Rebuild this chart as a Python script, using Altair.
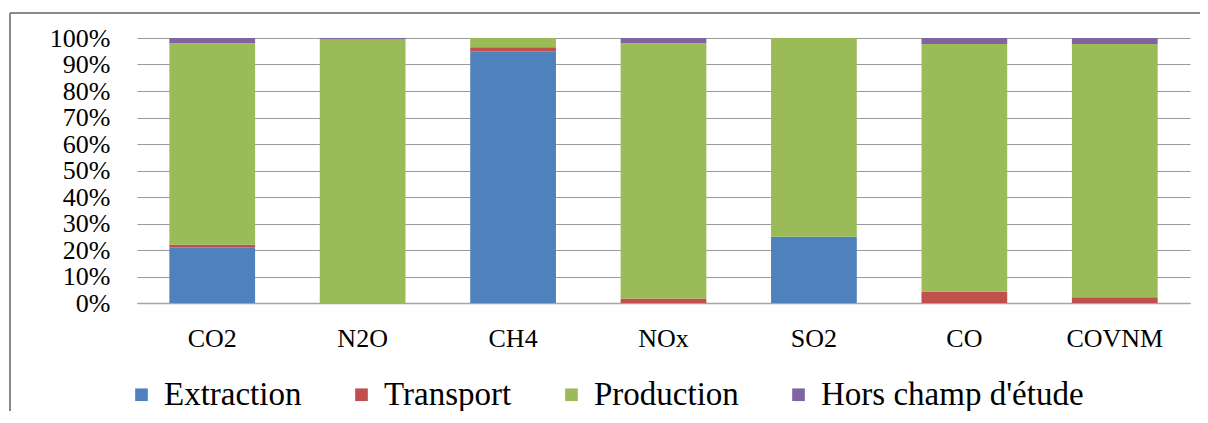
import altair as alt
import pandas as pd

gases = ["CO2", "N2O", "CH4", "NOx", "SO2", "CO", "COVNM"]
sources = ["Extraction", "Transport", "Production", "Hors champ d'étude"]
extraction = [21.0, 0.0, 95.0, 0.0, 25.0, 0.0, 0.0]
transport = [1.0, 0.0, 1.5, 1.7, 0.0, 4.3, 2.2]
production = [76.0, 99.4, 3.5, 96.3, 75.0, 93.4, 95.5]
hors = [2.0, 0.6, 0.0, 2.0, 0.0, 2.3, 2.3]
colors = ["#4F81BD", "#C0504D", "#9BBB59", "#8064A2"]
y_ticks = [0.0, 0.1, 0.2, 0.3, 0.4, 0.5, 0.6, 0.7, 0.8, 0.9, 1.0]

series = [extraction, transport, production, hors]
rows = []
for si, (src, vals) in enumerate(zip(sources, series)):
    for g, v in zip(gases, vals):
        rows.append({"gas": g, "source": src, "value": v, "idx": si})
df = pd.DataFrame(rows)

FONT = "Liberation Serif"

bars = alt.Chart(df).mark_bar().encode(
    x=alt.X(
        "gas:N",
        sort=gases,
        title=None,
        scale=alt.Scale(paddingInner=0.43, paddingOuter=0.215),
        axis=alt.Axis(
            labelAngle=0, labelFont=FONT, labelFontSize=26, labelColor="#000000",
            labelPadding=22, ticks=False, tickSize=0, grid=False,
            domainColor="#a6a6a6", domainWidth=1.5,
        ),
    ),
    y=alt.Y(
        "value:Q",
        stack="normalize",
        title=None,
        scale=alt.Scale(domain=[0, 1], nice=False),
        axis=alt.Axis(
            values=y_ticks, format=".0%", labelFont=FONT, labelFontSize=26,
            labelColor="#000000", labelPadding=27, ticks=False, tickSize=0,
            labelOverlap=False, labelBound=False,
            domain=False, grid=True, gridColor="#9a9a9a", gridWidth=1,
        ),
    ),
    color=alt.Color(
        "source:N",
        sort=sources,
        scale=alt.Scale(domain=sources, range=colors),
        legend=alt.Legend(
            title=None, orient="none", direction="horizontal",
            legendX=-12, legendY=340, padding=0,
            symbolType="square", symbolSize=160, symbolStrokeWidth=0,
            labelFont=FONT, labelFontSize=33, labelColor="#000000",
            labelOffset=6, columnPadding=43, labelLimit=400,
        ),
    ),
    order=alt.Order("idx:Q", sort="ascending"),
)

frame_df = pd.DataFrame({"k": [0]})
top_line = alt.Chart(frame_df).mark_rule(color="#8a8a8a", strokeWidth=2).encode(
    x=alt.value(-127), x2=alt.value(1071), y=alt.value(-25)
)
left_line = alt.Chart(frame_df).mark_rule(color="#8a8a8a", strokeWidth=2).encode(
    x=alt.value(-127), y=alt.value(-25), y2=alt.value(390)
)

chart = alt.layer(bars, top_line, left_line).properties(
    width=1053,
    height=265,
    padding={"left": 129, "top": 30, "right": 10, "bottom": 108},
    autosize=alt.AutoSizeParams(type="none"),
    background="white",
).configure(font=FONT).configure_view(stroke=None)

chart.save("out.html", embed_options={"renderer": "svg", "actions": False})
